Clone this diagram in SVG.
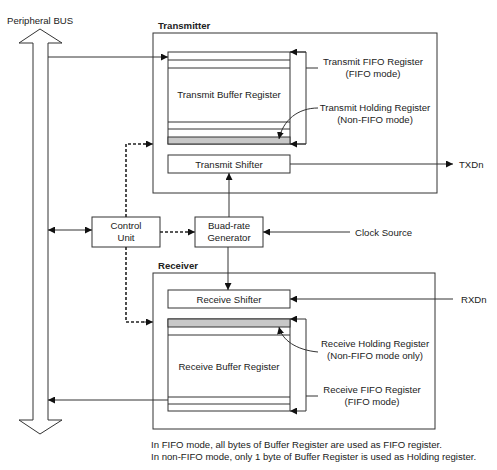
<svg xmlns="http://www.w3.org/2000/svg" width="497" height="470" viewBox="0 0 497 470">
<style>
text{font-family:"Liberation Sans",Arial,sans-serif;font-size:9.6px;fill:#222}
.b{font-weight:bold}
.m{text-anchor:middle}
.box{fill:#fff;stroke:#333;stroke-width:1}
.ln{fill:none;stroke:#333;stroke-width:1}
.ds{fill:none;stroke:#222;stroke-width:1.6;stroke-dasharray:3,2}
.gray{fill:#c8c8c8;stroke:#333;stroke-width:1}
</style>
<defs>
<marker id="ah" viewBox="0 0 10 10" refX="10" refY="5" markerWidth="7" markerHeight="7" markerUnits="userSpaceOnUse" orient="auto-start-reverse">
<path d="M0,0L10,5L0,10z" fill="#111"/>
</marker>
</defs>
<rect width="497" height="470" fill="#fff"/>

<g id="bus">
<path class="box" d="M40,29L62,43L48,43L48,420L62,420L40,434L19,420L33,420L33,43L19,43z"/>
<text x="7" y="24">Peripheral BUS</text>
</g>

<g id="transmitter">
<rect class="box" x="153" y="33" width="284" height="160"/>
<text class="b" x="158" y="29">Transmitter</text>
</g>

<g id="tx-buffer">
<rect class="box" x="168" y="52" width="122" height="92"/>
<line class="ln" x1="168" y1="60" x2="290" y2="60"/>
<line class="ln" x1="168" y1="68" x2="290" y2="68"/>
<line class="ln" x1="168" y1="122" x2="290" y2="122"/>
<line class="ln" x1="168" y1="129" x2="290" y2="129"/>
<rect class="gray" x="168" y="137" width="122" height="7"/>
<text class="m" x="229" y="98">Transmit Buffer Register</text>
</g>

<g id="tx-shifter">
<rect class="box" x="168" y="155" width="122" height="18"/>
<text class="m" x="229" y="167.5">Transmit Shifter</text>
</g>

<g id="tx-labels">
<text class="m" x="373" y="65">Transmit FIFO Register</text>
<text class="m" x="373" y="77">(FIFO mode)</text>
<text class="m" x="375" y="111">Transmit Holding Register</text>
<text class="m" x="375" y="122.5">(Non-FIFO mode)</text>
<text x="459" y="167.5">TXDn</text>
</g>

<g id="control-unit">
<rect class="box" x="92" y="217" width="68" height="30"/>
<text class="m" x="126" y="229">Control</text>
<text class="m" x="126" y="241">Unit</text>
</g>

<g id="baud-rate">
<rect class="box" x="195" y="217" width="68" height="30"/>
<text class="m" x="229" y="229">Buad-rate</text>
<text class="m" x="229" y="241">Generator</text>
</g>

<g id="clock-source">
<text x="355" y="235.5">Clock Source</text>
</g>

<g id="receiver">
<rect class="box" x="153" y="273" width="282" height="156"/>
<text class="b" x="158" y="269">Receiver</text>
</g>

<g id="rx-shifter">
<rect class="box" x="168" y="290" width="122" height="18"/>
<text class="m" x="229" y="302.5">Receive Shifter</text>
</g>

<g id="rx-buffer">
<rect class="box" x="168" y="319" width="122" height="92"/>
<rect class="gray" x="168" y="319" width="122" height="8"/>
<line class="ln" x1="168" y1="335" x2="290" y2="335"/>
<line class="ln" x1="168" y1="397" x2="290" y2="397"/>
<line class="ln" x1="168" y1="404" x2="290" y2="404"/>
<text class="m" x="229" y="370">Receive Buffer Register</text>
</g>

<g id="rx-labels">
<text class="m" x="375" y="347">Receive Holding Register</text>
<text class="m" x="375" y="358.5">(Non-FIFO mode only)</text>
<text class="m" x="372" y="393">Receive FIFO Register</text>
<text class="m" x="372" y="404.5">(FIFO mode)</text>
<text x="461" y="302.5">RXDn</text>
</g>

<g id="notes">
<text x="151" y="448">In FIFO mode, all bytes of Buffer Register are used as FIFO register.</text>
<text x="151" y="460">In non-FIFO mode, only 1 byte of Buffer Register is used as Holding register.</text>
</g>

<g id="connectors">
<line class="ln" x1="48" y1="57" x2="168" y2="57" marker-end="url(#ah)"/>
<path class="ln" d="M306,68L318,68"/>
<path class="ln" d="M290,52L306,52L306,144L290,144" />
<line class="ln" x1="306" y1="52" x2="290" y2="52" marker-end="url(#ah)"/>
<line class="ln" x1="306" y1="144" x2="290" y2="144" marker-end="url(#ah)"/>
<path class="ln" d="M318,108C298,108 283,120 279,139" marker-end="url(#ah)"/>
<line class="ln" x1="290" y1="164" x2="453" y2="164" marker-end="url(#ah)"/>
<path class="ds" d="M126,217L126,144L151,144"/>
<line class="ln" x1="143" y1="144" x2="153" y2="144" marker-end="url(#ah)"/>
<line class="ln" x1="48" y1="230" x2="92" y2="230" marker-start="url(#ah)" marker-end="url(#ah)"/>
<path class="ds" d="M160,232L192,232"/>
<line class="ln" x1="188" y1="232" x2="195" y2="232" marker-end="url(#ah)"/>
<line class="ln" x1="229" y1="217" x2="229" y2="173" marker-end="url(#ah)"/>
<line class="ln" x1="350" y1="232" x2="263" y2="232" marker-end="url(#ah)"/>
<line class="ln" x1="228" y1="247" x2="228" y2="290" marker-end="url(#ah)"/>
<path class="ds" d="M126,247L126,322L151,322"/>
<line class="ln" x1="143" y1="322" x2="153" y2="322" marker-end="url(#ah)"/>
<line class="ln" x1="453" y1="299" x2="290" y2="299" marker-end="url(#ah)"/>
<path class="ln" d="M306,319L306,411"/>
<line class="ln" x1="306" y1="319" x2="290" y2="319" marker-end="url(#ah)"/>
<line class="ln" x1="306" y1="411" x2="290" y2="411" marker-end="url(#ah)"/>
<path class="ln" d="M306,396L318,396"/>
<path class="ln" d="M318,352C296,350 282,340 279,327" marker-end="url(#ah)"/>
<line class="ln" x1="168" y1="400" x2="48" y2="400" marker-end="url(#ah)"/>
</g>
</svg>
